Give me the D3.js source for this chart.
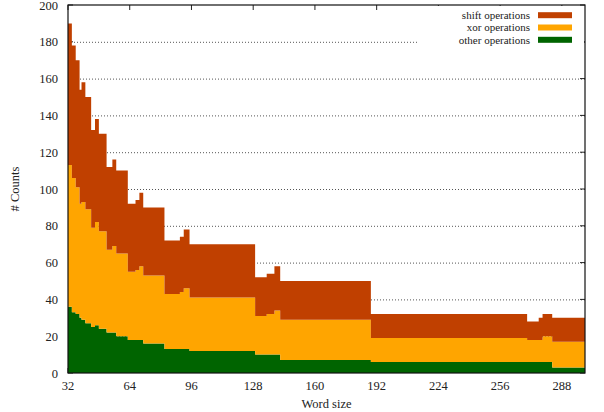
<!DOCTYPE html>
<html><head><meta charset="utf-8">
<script src="https://cdn.jsdelivr.net/npm/d3@7"></script>
<style>
body{margin:0;background:#fff}
svg{display:block}
text{font-family:"Liberation Serif","Times New Roman",serif;fill:#222}
</style>
</head><body><svg id="c" width="604" height="412"></svg>
<script>
// word-size ranges (start of each constant run); last run ends at segEnd
const segStart = [32,34,36,38,39,41,44,46,48,52,55,57,63,67,69,71,82,90,92,95,129,135,139,142,189,270,276,278,283];
const segEnd = 300;
const otherOps = [36,33,32,30,29,27,25,26,24,22,22,20,18,18,18,16,13,13,13,12,10,10,10,7,6,6,6,6,3];
const xorOps   = [77,73,69,62,64,62,54,56,53,45,47,45,37,38,40,37,30,31,33,29,21,22,24,22,13,12,12,14,14];
const shiftOps = [77,72,69,62,65,61,53,56,53,45,47,45,37,38,40,37,29,30,32,29,21,22,24,21,13,10,12,12,13];
const xTicks = [32,64,96,128,160,192,224,256,288];
const yTicks = [0,20,40,60,80,100,120,140,160,180,200];
const seriesNames = ["shift operations","xor operations","other operations"];
const colors = {other:"#006400", xor:"#ffa500", shift:"#c04000"};

const svg = d3.select("#c");
const L=68,R=585,T=5,B=373;
const x = d3.scaleLinear().domain([32,300]).range([L,R]);
const y = d3.scaleLinear().domain([0,200]).range([B,T]);

const rows = segStart.map((s,i)=>({w:s, other:otherOps[i], xor:xorOps[i], shift:shiftOps[i]}));
// closing point so the last step runs to segEnd
rows.push({w:segEnd, other:otherOps[otherOps.length-1], xor:xorOps[xorOps.length-1], shift:shiftOps[shiftOps.length-1]});
const stack = d3.stack().keys(["other","xor","shift"])(rows);

// grid
svg.append("g").selectAll("line").data(yTicks.filter(v=>v>0&&v<200)).join("line")
  .attr("x1",L).attr("x2",R).attr("y1",d=>y(d)+0.5).attr("y2",d=>y(d)+0.5)
  .attr("stroke","#555").attr("stroke-width",1).attr("stroke-dasharray","1,2");

// ticks (mirrored, inward)
const tk = svg.append("g").attr("stroke","#222").attr("stroke-width",1);
xTicks.forEach(v=>{
  tk.append("line").attr("x1",x(v)).attr("x2",x(v)).attr("y1",B).attr("y2",B-5);
  tk.append("line").attr("x1",x(v)).attr("x2",x(v)).attr("y1",T).attr("y2",T+5);
});
yTicks.forEach(v=>{
  tk.append("line").attr("x1",L).attr("x2",L+5).attr("y1",y(v)).attr("y2",y(v));
  tk.append("line").attr("x1",R).attr("x2",R-5).attr("y1",y(v)).attr("y2",y(v));
});

// stacked step areas
const area = d3.area().curve(d3.curveStepAfter)
  .x(d=>x(d.data.w)).y0(d=>y(d[0])).y1(d=>y(d[1]));
svg.append("g").selectAll("path").data(stack).join("path")
  .attr("fill",d=>colors[d.key]).attr("d",area);

// legend
const lg = svg.append("g");
lg.append("rect").attr("x",418).attr("y",T+1).attr("width",R-418-1).attr("height",40).attr("fill","#fff");
const lcol=[colors.shift,colors.xor,colors.other];
seriesNames.forEach((n,i)=>{
  const cy = 15.2+i*12.3;
  lg.append("text").attr("x",530).attr("y",cy+3.8).attr("text-anchor","end")
    .attr("font-size","11px").text(n);
  lg.append("rect").attr("x",538).attr("y",cy-3).attr("width",34).attr("height",6).attr("fill",lcol[i]);
});

// frame
svg.append("rect").attr("x",L).attr("y",T).attr("width",R-L).attr("height",B-T)
  .attr("fill","none").attr("stroke","#111").attr("stroke-width",1.2);

// tick labels
svg.append("g").selectAll("text").data(xTicks).join("text")
  .attr("x",d=>x(d)).attr("y",390).attr("text-anchor","middle").attr("font-size","12.5px").text(d=>d);
svg.append("g").selectAll("text").data(yTicks).join("text")
  .attr("x",58).attr("y",d=>y(d)+4.5).attr("text-anchor","end").attr("font-size","12.5px").text(d=>d);

// axis titles
svg.append("text").attr("x",(L+R)/2).attr("y",408).attr("text-anchor","middle").attr("font-size","12.5px").text("Word size");
svg.append("text").attr("transform",`translate(19,${(T+B)/2}) rotate(-90)`).attr("text-anchor","middle")
  .attr("font-size","12.5px").text("# Counts");
</script>
</body></html>
